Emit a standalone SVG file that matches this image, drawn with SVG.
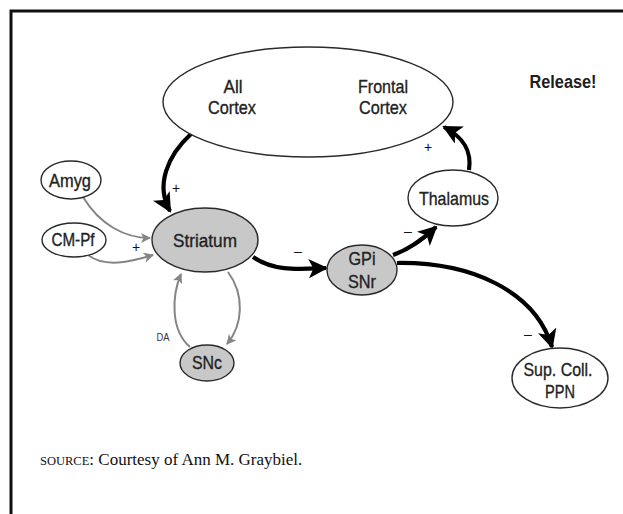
<svg xmlns="http://www.w3.org/2000/svg" width="623" height="514" viewBox="0 0 623 514">
  <style>
    .node { fill: #fff; stroke: #2a2a2a; stroke-width: 1.4; }
    .gray { fill: #c8c8c8; }
    .lbl { font-family: "Liberation Sans", Arial, sans-serif; font-size: 19px; fill: #222; stroke: #222; stroke-width: 0.35; text-anchor: middle; }
    .sign { font-family: "Liberation Sans", Arial, sans-serif; font-size: 14px; fill: #111; text-anchor: middle; }
    .thick { fill: none; stroke: #000; stroke-width: 4.2; }
    .thin { fill: none; stroke: #858585; stroke-width: 2; }
  </style>
  <defs>
    <marker id="bigArrow" viewBox="0 0 10 10" refX="9" refY="5" markerWidth="4.6" markerHeight="4.6" orient="auto" markerUnits="strokeWidth">
      <path d="M0,0 L10,5 L0,10 L2.5,5 Z" fill="#000"/>
    </marker>
    <marker id="grayArrow" viewBox="0 0 10 10" refX="9" refY="5" markerWidth="5" markerHeight="5" orient="auto" markerUnits="strokeWidth">
      <path d="M0,0 L10,5 L0,10 L2.5,5 Z" fill="#858585"/>
    </marker>
  </defs>

  <rect width="623" height="514" fill="#fff"/>
  <!-- outer frame, open to the right and bottom -->
  <path d="M11,514 V11 H623" fill="none" stroke="#111" stroke-width="3"/>

  <g id="connectors">
    <path class="thick" d="M191,134 C168,155 155,185 170,211" marker-end="url(#bigArrow)"/>
    <path class="thick" d="M469,170 C472,150 463,137 444,127" marker-end="url(#bigArrow)"/>
    <path class="thick" d="M253,257 C275,272 300,269 326,268" marker-end="url(#bigArrow)"/>
    <path class="thick" d="M393,255 C410,249 422,240 436,227" marker-end="url(#bigArrow)"/>
    <path class="thick" d="M397,263 C470,262 535,290 552,347" marker-end="url(#bigArrow)"/>
    <path class="thin" d="M83,197 C100,225 125,238 150,238" marker-end="url(#grayArrow)"/>
    <path class="thin" d="M88,255 C105,268 130,262 153,255" marker-end="url(#grayArrow)"/>
    <path class="thin" d="M228,272 C245,295 243,325 227,344" marker-end="url(#grayArrow)"/>
    <path class="thin" d="M190,347 C170,330 172,295 181,274" marker-end="url(#grayArrow)"/>
    <text class="sign" x="176" y="193">+</text>
    <text class="sign" x="428" y="152">+</text>
    <text class="sign" x="136" y="252">+</text>
    <text class="sign" x="298" y="256">–</text>
    <text class="sign" x="408" y="236">–</text>
    <text class="sign" x="528" y="339">–</text>
    <text x="163" y="341" font-family="Liberation Sans, Arial, sans-serif" font-size="10" fill="#333" text-anchor="middle" textLength="13" lengthAdjust="spacingAndGlyphs">DA</text>
  </g>

  <g id="cortex">
    <ellipse class="node" cx="308" cy="102" rx="145" ry="55"/>
    <text class="lbl" x="233" y="93" textLength="19" lengthAdjust="spacingAndGlyphs">All</text>
    <text class="lbl" x="232" y="114" textLength="48" lengthAdjust="spacingAndGlyphs">Cortex</text>
    <text class="lbl" x="383" y="93" textLength="50" lengthAdjust="spacingAndGlyphs">Frontal</text>
    <text class="lbl" x="383" y="114" textLength="48" lengthAdjust="spacingAndGlyphs">Cortex</text>
  </g>
  <g id="amyg">
    <ellipse class="node" cx="71" cy="180" rx="30" ry="19"/>
    <text class="lbl" x="70" y="187" textLength="42" lengthAdjust="spacingAndGlyphs">Amyg</text>
  </g>
  <g id="cmpf">
    <ellipse class="node" cx="74" cy="240" rx="32" ry="17"/>
    <text class="lbl" x="73" y="246" textLength="43" lengthAdjust="spacingAndGlyphs">CM-Pf</text>
  </g>
  <g id="striatum">
    <ellipse class="node gray" cx="205" cy="240" rx="53" ry="32"/>
    <text class="lbl" x="205" y="247" textLength="64" lengthAdjust="spacingAndGlyphs">Striatum</text>
  </g>
  <g id="snc">
    <ellipse class="node gray" cx="207" cy="363" rx="27" ry="18"/>
    <text class="lbl" x="207" y="369" textLength="30" lengthAdjust="spacingAndGlyphs">SNc</text>
  </g>
  <g id="gpi-snr">
    <ellipse class="node gray" cx="362" cy="270" rx="35" ry="25"/>
    <text class="lbl" x="362" y="265" textLength="27" lengthAdjust="spacingAndGlyphs">GPi</text>
    <text class="lbl" x="362" y="288" textLength="28" lengthAdjust="spacingAndGlyphs">SNr</text>
  </g>
  <g id="thalamus">
    <ellipse class="node" cx="453" cy="198" rx="45" ry="28"/>
    <text class="lbl" x="454" y="205" textLength="70" lengthAdjust="spacingAndGlyphs">Thalamus</text>
  </g>
  <g id="supcoll-ppn">
    <ellipse class="node" cx="560" cy="378" rx="48" ry="30"/>
    <text class="lbl" x="558" y="376" textLength="69" lengthAdjust="spacingAndGlyphs">Sup. Coll.</text>
    <text class="lbl" x="560" y="398" textLength="30" lengthAdjust="spacingAndGlyphs">PPN</text>
  </g>

  <text x="563" y="88" font-family="Liberation Sans, Arial, sans-serif" font-size="18" font-weight="bold" fill="#1e1e1e" text-anchor="middle" textLength="67" lengthAdjust="spacingAndGlyphs">Release!</text>

  <text x="40" y="465" font-family="Liberation Serif, 'Times New Roman', serif" font-size="17" fill="#111"><tspan font-size="12.5">SOURCE</tspan>: Courtesy of Ann M. Graybiel.</text>
</svg>
